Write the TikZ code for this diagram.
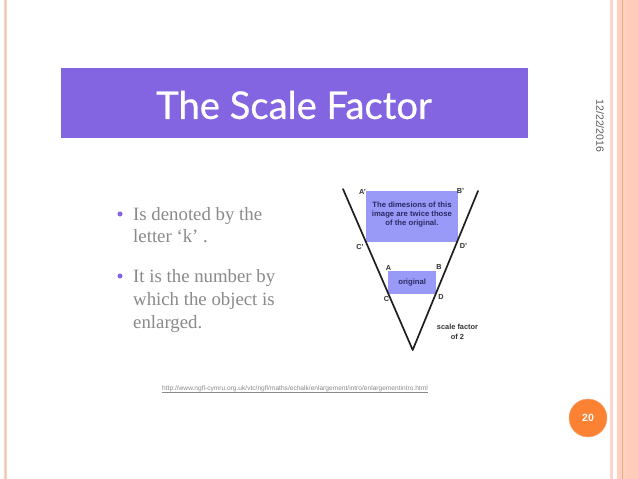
\documentclass[tikz,border=0pt]{standalone}
\usepackage{fontspec}
\setmainfont{Liberation Serif}
\setsansfont{Liberation Sans}
\newfontfamily\titlefont[FakeBold=0.6]{Lato}
\definecolor{banner}{HTML}{8465E1}
\definecolor{boxblue}{HTML}{9999F7}
\definecolor{bodygray}{HTML}{8A8A8A}
\definecolor{peachA}{HTML}{F9D6CA}
\definecolor{peachB}{HTML}{FDD0C0}
\definecolor{peachC}{HTML}{FFCBBB}
\definecolor{peachLine}{HTML}{E8A988}
\definecolor{badge}{HTML}{FA8232}
\definecolor{inkblue}{HTML}{2A2A66}
\tikzset{
  x=1pt,y=-1pt,
  body/.style={anchor=base west,inner sep=0pt,text=bodygray,font=\fontsize{18.8}{22}\selectfont},
  dot/.style={circle,fill=banner,inner sep=0pt,minimum size=5pt},
  vlabel/.style={inner sep=0pt,text=black!80,font=\sffamily\bfseries\fontsize{7.3}{8}\selectfont},
  boxtext/.style={inner sep=0pt,align=center,text=inkblue,font=\sffamily\bfseries\fontsize{7.7}{9}\selectfont},
  vline/.style={draw=black!88,line width=1.7pt,line cap=round,line join=round}
}
\begin{document}
\begin{tikzpicture}
\useasboundingbox (0,0) rectangle (638,479);
\fill[white] (0,0) rectangle (638,479);
% page edge bands
\fill[peachA] (4,0) rectangle (7.3,479);
\draw[peachLine!70,line width=0.4pt] (5.6,0) -- (5.6,479);
\fill[peachA] (610,0) rectangle (613,479);
\fill[peachB] (617,0) rectangle (627,479);
\fill[peachC] (627,0) rectangle (638,479);
\draw[peachLine,line width=0.8pt] (622,0) -- (622,479);
% title banner
\node[fill=banner,minimum width=467pt,minimum height=70pt,inner sep=0pt,anchor=north west] (title) at (61,68) {};
\node[inner sep=0pt,text=white,font=\titlefont\fontsize{38.2}{42}\selectfont] (titletext) at (294,105) {The Scale Factor};
% date and slide number
\node[rotate=-90,inner sep=0pt,text=black!65,font=\sffamily\fontsize{10.5}{12}\selectfont] (date) at (600,126) {12/22/2016};
\node[circle,fill=badge,draw=badge!70!white,line width=0.5pt,minimum size=38pt,inner sep=0pt,
      text=white,font=\sffamily\bfseries\fontsize{10.5}{12}\selectfont] (num) at (588,418) {20};
% bullets
\node[dot] (b1) at (120,214) {};
\node[dot] (b2) at (120,276) {};
\node[body] (t1) at (133,220.5) {Is denoted by the};
\node[body] (t2) at (133,242.5) {letter ‘k’ .};
\node[body] (t3) at (133,282) {It is the number by};
\node[body] (t4) at (133,305) {which the object is};
\node[body] (t5) at (133,328) {enlarged.};
% V diagram
\node[fill=boxblue,minimum width=92pt,minimum height=51pt,inner sep=0pt,anchor=north west] (big) at (366,191) {};
\node[boxtext] (bigtext) at (412,214.5) {The dimesions of this\\image are twice those\\of the original.};
\node[fill=boxblue,minimum width=48pt,minimum height=23pt,inner sep=0pt,anchor=north west,boxtext] (small) at (388,271) {original};
\coordinate (vl) at (343,189);
\coordinate (vb) at (412.7,350);
\coordinate (vr) at (478,191);
\draw[vline] (vl) -- (vb) -- (vr);
\node[vlabel] (Ap) at (362.5,192) {A'};
\node[vlabel] (Bp) at (460.5,191) {B'};
\node[vlabel] (Cp) at (360,247) {C'};
\node[vlabel] (Dp) at (463.5,246) {D'};
\node[vlabel] (A) at (388.5,268) {A};
\node[vlabel] (B) at (439,267) {B};
\node[vlabel] (C) at (386.5,299) {C};
\node[vlabel] (D) at (441,297) {D};
\node[vlabel,align=center,font=\sffamily\bfseries\fontsize{7.4}{9.3}\selectfont] (sf) at (457.5,332) {scale factor\\of 2};
% source link
\node[inner sep=0pt,text=bodygray,font=\sffamily\fontsize{6.6}{8}\selectfont] (url) at (295,388.5) {http://www.ngfl-cymru.org.uk/vtc/ngfl/maths/echalk/enlargement/intro/enlargementintro.html};
\draw[bodygray,line width=0.4pt] ([yshift=-0.3pt]url.south west) -- ([yshift=-0.3pt]url.south east);
\end{tikzpicture}
\end{document}
